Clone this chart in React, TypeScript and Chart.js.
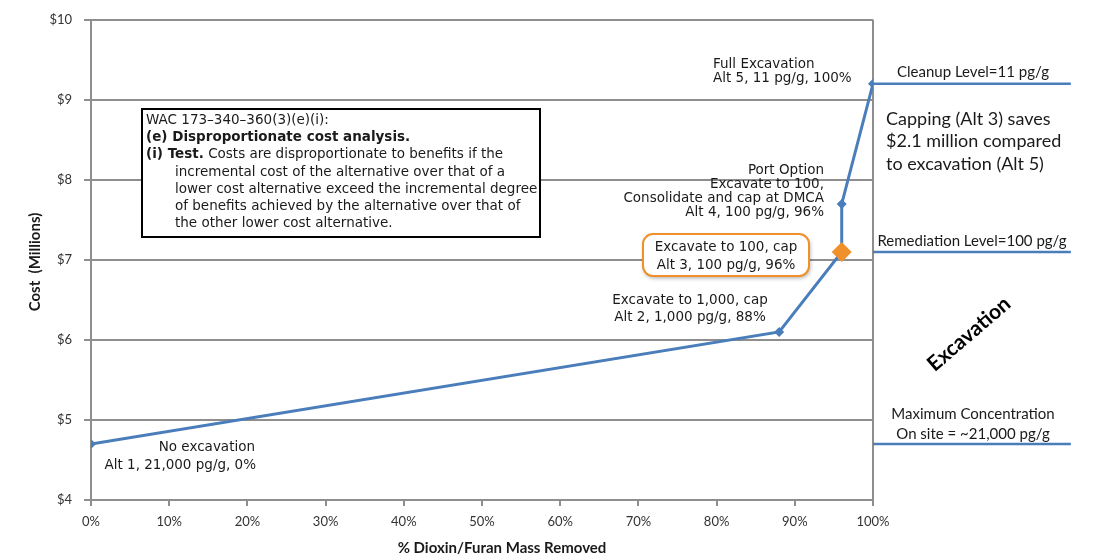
import React, { useEffect, useRef } from "react";
import { Chart, registerables } from "chart.js";

Chart.register(...registerables);

// ---- data ----
const removedPct = [0, 88, 96, 96, 100];
const costMillions = [4.7, 6.1, 7.1, 7.7, 9.2];
const alternativeNames = ["Alt 1", "Alt 2", "Alt 3", "Alt 4", "Alt 5"];
const highlightedAlt = "Alt 3";
const yTickValues = [4, 5, 6, 7, 8, 9, 10];
const xTickValues = [0, 10, 20, 30, 40, 50, 60, 70, 80, 90, 100];
const levelNames = ["Cleanup Level=11 pg/g", "Remediation Level=100 pg/g", "Maximum Concentration On site = ~21,000 pg/g"];
const levelCosts = [9.2, 7.1, 4.7];
const levelLineX = [100, 125.3];

const BLUE = "#4A7EBB";
const ORANGE = "#F0902A";
const GRAY = "#8E8E8E";
const TEXT = "#1A1A1A";
const SX = 1.0;

function txt(ctx: CanvasRenderingContext2D, t: string, x: number, y: number, align: CanvasTextAlign, sx = SX) {
  ctx.save();
  ctx.translate(x, y);
  ctx.scale(sx, 1);
  ctx.textAlign = align;
  ctx.fillText(t, 0, 0);
  ctx.restore();
}

const annotations = {
  id: "annotations",
  afterDraw(chart: any) {
    const ctx = chart.ctx as CanvasRenderingContext2D;
    ctx.save();
    ctx.fillStyle = TEXT;
    ctx.textBaseline = "middle";

    // axis titles
    ctx.save();
    ctx.font = "bold 15px Lato";
    ctx.translate(35, 262);
    ctx.rotate(-Math.PI / 2);
    ctx.textAlign = "center";
    ctx.fillText("Cost  (Millions)", 0, 0);
    ctx.restore();
    ctx.font = "bold 15px Lato";
    ctx.textAlign = "center";
    ctx.fillText("% Dioxin/Furan Mass Removed", 502, 548);

    // WAC box
    ctx.fillStyle = "#ffffff";
    ctx.fillRect(142, 109, 398, 128);
    ctx.strokeStyle = "#000000";
    ctx.lineWidth = 2;
    ctx.strokeRect(142, 109, 398, 128);
    ctx.fillStyle = TEXT;
    const f = "13.5px 'DejaVu Sans'";
    const fb = "bold 13.5px 'DejaVu Sans'";
    const L = 17.2;
    ctx.font = f;
    txt(ctx, "WAC 173\u2013340\u2013360(3)(e)(i):", 146, 120.5, "left");
    ctx.font = fb;
    txt(ctx, "(e) Disproportionate cost analysis.", 146, 120.5 + L, "left");
    txt(ctx, "(i) Test.", 146, 120.5 + 2 * L, "left");
    const w = ctx.measureText("(i) Test.").width * SX;
    ctx.font = f;
    txt(ctx, " Costs are disproportionate to benefits if the", 146 + w, 120.5 + 2 * L, "left");
    const body = [
      "incremental cost of the alternative over that of a",
      "lower cost alternative exceed the incremental degree",
      "of benefits achieved by the alternative over that of",
      "the other lower cost alternative.",
    ];
    body.forEach((t, i) => txt(ctx, t, 175, 120.5 + (3 + i) * L, "left"));

    // point labels
    ctx.font = f;
    txt(ctx, "Full Excavation", 713, 64, "left");
    txt(ctx, "Alt 5, 11 pg/g, 100%", 713, 78, "left");
    ["Port Option", "Excavate to 100,", "Consolidate and cap at DMCA", "Alt 4, 100 pg/g, 96%"].forEach((t, i) =>
      txt(ctx, t, 824, 170 + i * 14.3, "right")
    );
    txt(ctx, "Excavate to 1,000, cap", 690, 300, "center");
    txt(ctx, "Alt 2, 1,000 pg/g, 88%", 690, 317, "center");
    txt(ctx, "No excavation", 255, 447, "right");
    txt(ctx, "Alt 1, 21,000 pg/g, 0%", 256, 465, "right");

    // orange callout
    ctx.save();
    ctx.shadowColor = "rgba(0,0,0,0.35)";
    ctx.shadowBlur = 4;
    ctx.shadowOffsetX = 1;
    ctx.shadowOffsetY = 2;
    ctx.beginPath();
    (ctx as any).roundRect(643, 234, 166, 42, 10);
    ctx.fillStyle = "#ffffff";
    ctx.fill();
    ctx.restore();
    ctx.beginPath();
    (ctx as any).roundRect(643, 234, 166, 42, 10);
    ctx.strokeStyle = ORANGE;
    ctx.lineWidth = 2;
    ctx.stroke();
    ctx.fillStyle = TEXT;
    txt(ctx, "Excavate to 100, cap", 726, 247, "center");
    txt(ctx, "Alt 3, 100 pg/g, 96%", 726, 265, "center");

    // right side
    ctx.font = "15px Lato";
    ctx.textAlign = "center";
    ctx.fillText(levelNames[0], 973, 72);
    ctx.fillText(levelNames[1], 972, 241);
    ctx.fillText("Maximum Concentration", 973, 414);
    ctx.fillText("On site = ~21,000 pg/g", 973, 434);
    ctx.font = "18px Lato";
    ctx.textAlign = "left";
    ctx.fillText("Capping (Alt 3) saves", 886, 119);
    ctx.fillText("$2.1 million compared", 886, 141);
    ctx.fillText("to excavation (Alt 5)", 886, 164);

    ctx.save();
    ctx.translate(969, 334);
    ctx.rotate((-40.6 * Math.PI) / 180);
    ctx.font = "bold 21px Lato";
    ctx.textAlign = "center";
    ctx.fillStyle = "#000";
    ctx.fillText("Excavation", 0, 0);
    ctx.restore();

    ctx.restore();
  },
};

export default function App() {
  const ref = useRef<HTMLCanvasElement | null>(null);
  useEffect(() => {
    if (!ref.current) return;
    const hi = alternativeNames.indexOf(highlightedAlt);
    const levelSets = levelCosts.map((c, i) => ({
      label: levelNames[i],
      data: levelLineX.map((x) => ({ x, y: c })),
      borderColor: BLUE,
      borderWidth: 2.5,
      pointRadius: 0,
      clip: false as any,
      order: 2,
    }));
    const chart = new Chart(ref.current, {
      type: "line",
      data: {
        datasets: [
          {
            label: "Cost",
            data: removedPct.map((x, i) => ({ x, y: costMillions[i] })),
            borderColor: BLUE,
            borderWidth: 3,
            pointStyle: "rectRot",
            pointRadius: alternativeNames.map((_, i) => (i === hi ? 10 : 5)),
            pointBackgroundColor: alternativeNames.map((_, i) => (i === hi ? ORANGE : BLUE)),
            pointBorderColor: alternativeNames.map((_, i) => (i === hi ? ORANGE : BLUE)),
            pointBorderWidth: 0,
            order: 1,
          },
          ...levelSets,
        ],
      },
      options: {
        responsive: false,
        animation: false,
        devicePixelRatio: 1,
        layout: { padding: { top: 17, right: 228, left: 0, bottom: 0 } },
        plugins: { legend: { display: false }, tooltip: { enabled: false } },
        scales: {
          x: {
            type: "linear",
            min: 0,
            max: 100,
            afterBuildTicks: (s: any) => {
              s.ticks = xTickValues.map((v) => ({ value: v }));
            },
            afterFit: (s: any) => {
              s.height = 60;
            },
            ticks: {
              callback: (v: any) => v + "%",
              font: { family: "Lato", size: 13 },
              color: "#333",
              padding: 8,
              maxRotation: 0,
            },
            grid: {
              color: (c: any) => (c.tick && c.tick.value === 100 ? GRAY : "rgba(0,0,0,0)"),
              tickColor: GRAY,
              lineWidth: 2,
              tickLength: 6,
            },
            border: { display: true, color: GRAY, width: 2 },
          },
          y: {
            type: "linear",
            min: 4,
            max: 10,
            afterBuildTicks: (s: any) => {
              s.ticks = yTickValues.map((v) => ({ value: v }));
            },
            afterFit: (s: any) => {
              s.width = 91;
            },
            ticks: {
              callback: (v: any) => "$" + v,
              font: { family: "Lato", size: 13 },
              color: "#333",
              padding: 12,
            },
            grid: { color: GRAY, tickColor: GRAY, lineWidth: 2, tickLength: 7 },
            border: { display: true, color: GRAY, width: 2 },
          },
        },
      },
      plugins: [annotations],
    });
    return () => chart.destroy();
  }, []);
  return (
    <div style={{ position: "absolute", left: 0, top: 0, width: 1101, height: 560, background: "#fff" }}>
      <canvas ref={ref} width={1101} height={560} style={{ display: "block" }} />
    </div>
  );
}
